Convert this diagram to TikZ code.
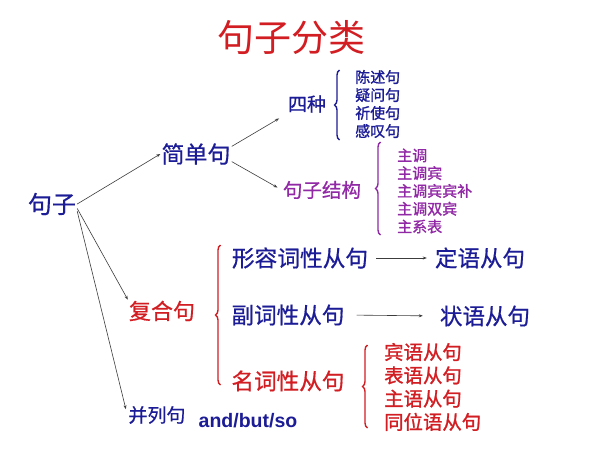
\documentclass[tikz,border=0pt]{standalone}
\usepackage{fontspec}
\setmainfont{Liberation Sans}
\newfontfamily\cjk[FakeBold=0.6]{Noto Sans CJK SC}
\newfontfamily\cjkl[FakeBold=1.2]{Noto Sans CJK SC}
\newfontfamily\cjkt{Noto Sans CJK SC}
\usetikzlibrary{arrows.meta,decorations.pathreplacing}
\definecolor{tblue}{RGB}{28,28,150}
\definecolor{tred}{RGB}{210,30,35}
\definecolor{tpurple}{RGB}{145,40,165}
\definecolor{tline}{RGB}{60,60,60}
\tikzset{
  txt/.style={inner sep=1pt, font=\cjk\fontsize{#1}{#1}\selectfont},
  lst/.style 2 args={inner sep=1pt, anchor=west, align=left, font=\cjkl\fontsize{#1}{#2}\selectfont},
  conn/.style={draw=tline, line width=0.6pt, -{Stealth[length=4pt,width=3pt]}},
  brc/.style={decorate, decoration={brace, amplitude=5pt}, line width=1.4pt},
}
\begin{document}
\begin{tikzpicture}[x=1pt,y=-1pt]
\useasboundingbox[fill=white] (0,0) rectangle (600,450);

\node[inner sep=1pt, text=tred, font=\cjkt\fontsize{37}{37}\selectfont] (title) at (291,38) {句子分类};

\node[txt=24, text=tblue] (jz) at (52,204) {句子};
\node[txt=23, text=tblue] (jdj) at (196,154) {简单句};
\node[txt=19, text=tblue] (sz) at (307,104) {四种};
\node[txt=19.5, text=tpurple] (jg) at (322,190) {句子结构};
\node[lst={15}{18}, text=tblue] (l1) at (354,104) {陈述句\\疑问句\\祈使句\\感叹句};
\node[lst={15}{17.8}, text=tpurple] (l2) at (396,191) {主调\\主调宾\\主调宾宾补\\主调双宾\\主系表};

\node[txt=22, text=tred] (fhj) at (162,311) {复合句};
\node[txt=22.7, text=tblue] (xr) at (300,258) {形容词性从句};
\node[txt=22.5, text=tblue] (dy) at (480,258) {定语从句};
\node[txt=22.6, text=tblue] (fc) at (288,315) {副词性从句};
\node[txt=22.5, text=tblue] (zy) at (485,316) {状语从句};
\node[txt=22.6, text=tred] (mc) at (288,381) {名词性从句};
\node[lst={19.4}{23.3}, text=tred] (l3) at (383,387) {宾语从句\\表语从句\\主语从句\\同位语从句};

\node[txt=19, text=tblue] (blj) at (157,415) {并列句};
\node[inner sep=1pt, text=tblue, font=\bfseries\fontsize{19.5}{19.5}\selectfont] (abs) at (248,421) {and/but/so};

% connectors
\draw[conn] (jz.east) -- (jdj.west);
\draw[conn, shorten >=9pt] (jdj.12) -- (sz.south west);
\draw[conn, shorten >=5pt] (jdj.-12) -- (jg.west);
\draw[conn] (jz.-10) -- (fhj.north west);
\draw[conn, shorten >=6pt] (jz.-16) -- (blj.west);
\draw[conn, shorten <=7pt, shorten >=7pt] (xr.east) -- (dy.west);
\draw[conn, shorten <=11pt, shorten >=16pt] (fc.east) -- (zy.west);

% braces
\draw[brc, tblue] (339.5,140) -- (339.5,70);
\draw[brc, tpurple] (380.5,235) -- (380.5,142);
\draw[brc, tred] (220.5,385) -- (220.5,245);
\draw[brc, tred] (367.5,428) -- (367.5,345);
\end{tikzpicture}
\end{document}
